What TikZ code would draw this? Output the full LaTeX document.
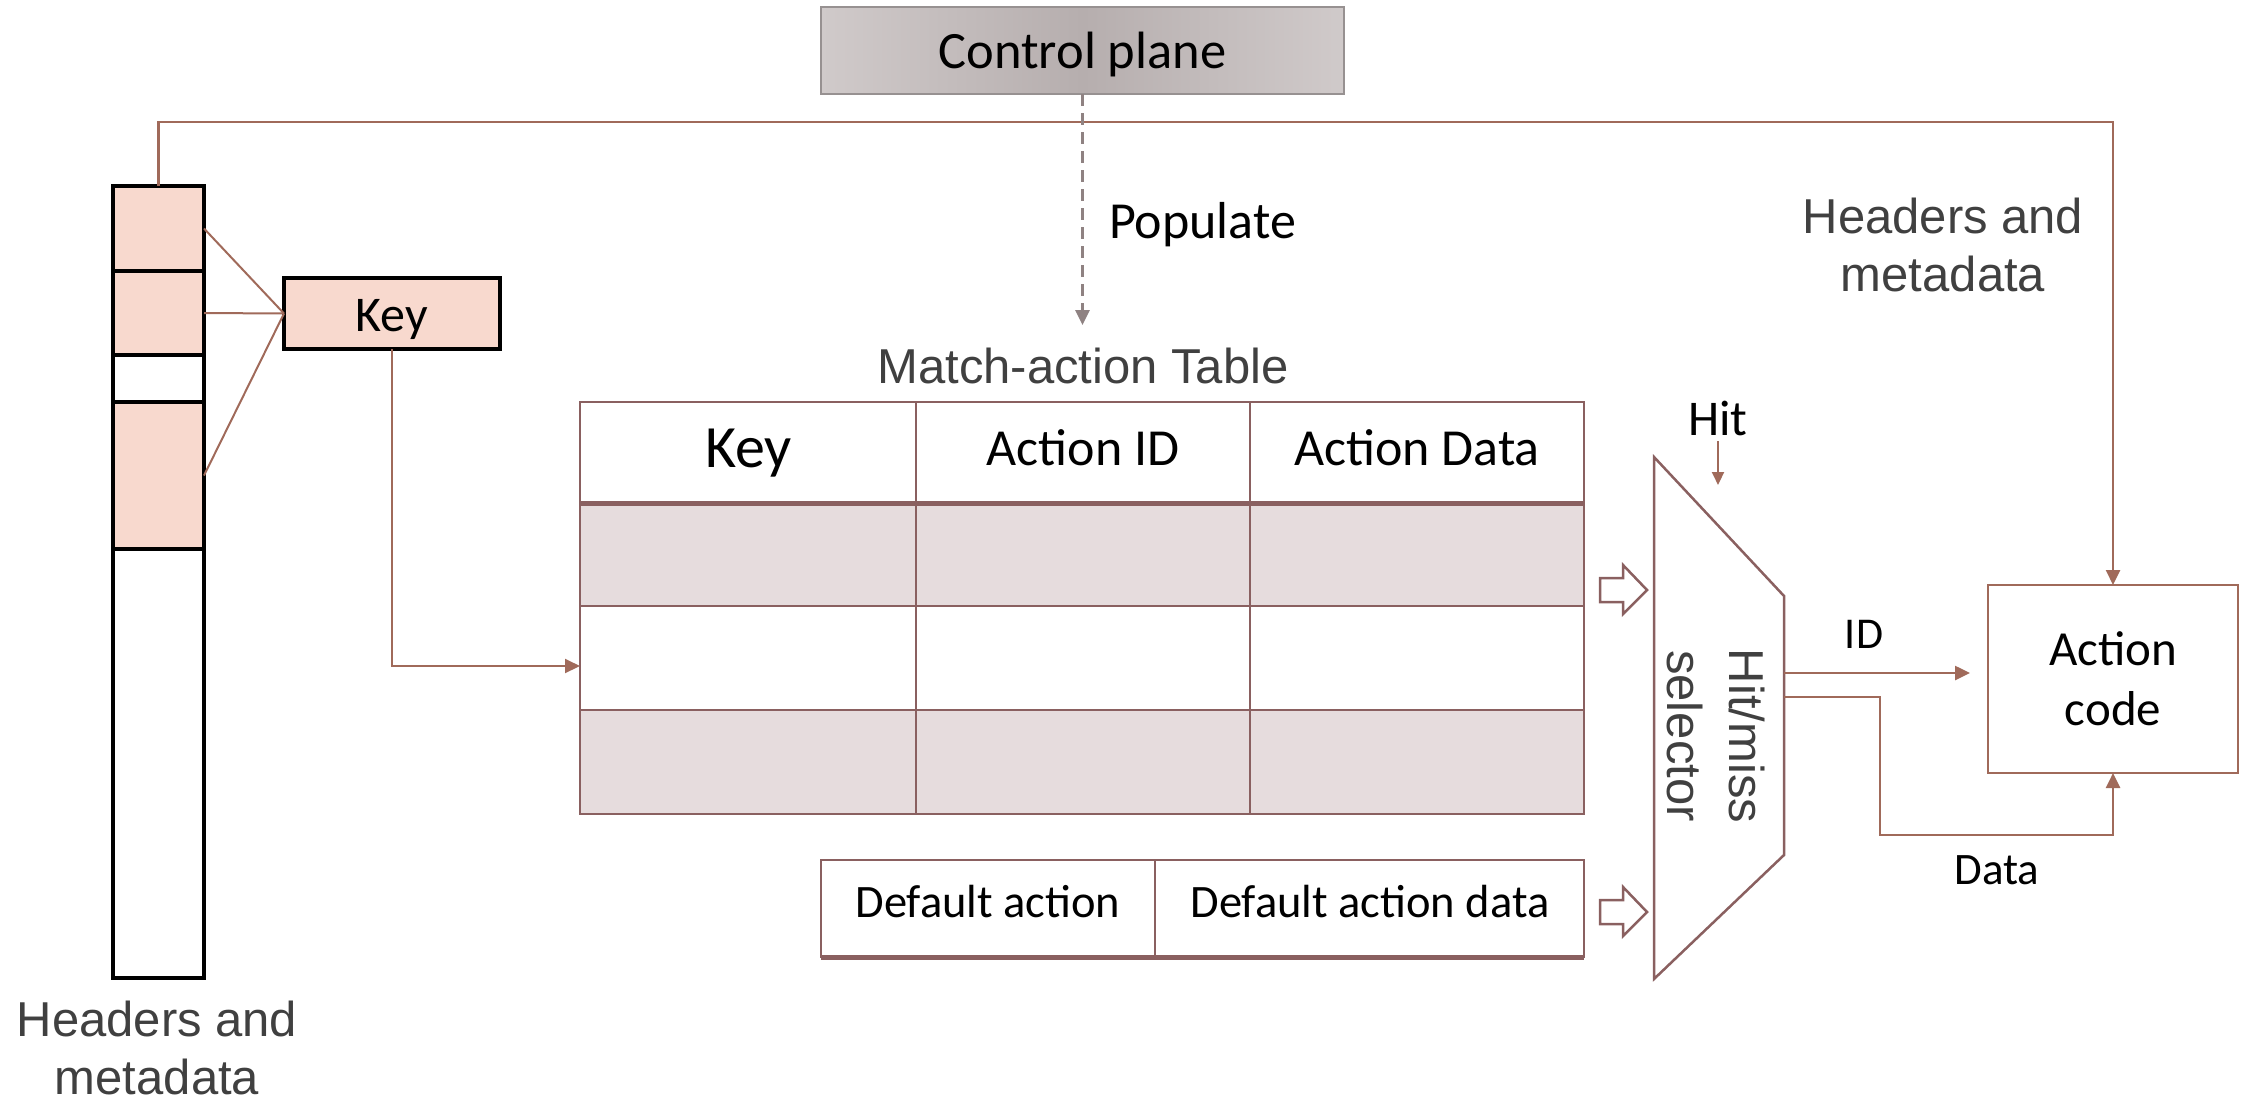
\documentclass[tikz,border=0pt]{standalone}
\usepackage{fontspec}
\setmainfont{Carlito}
\newfontfamily\arialf{Liberation Sans}
\usetikzlibrary{arrows.meta}
\definecolor{brn}{HTML}{A06A5A}
\definecolor{tbl}{HTML}{8A6060}
\definecolor{pinkf}{HTML}{F8D9CE}
\definecolor{rowf}{HTML}{E6DCDD}
\definecolor{gtxt}{HTML}{404040}
\definecolor{dashg}{HTML}{8F8282}
\definecolor{cpb}{HTML}{979191}
\definecolor{cpl}{HTML}{D0CACA}
\definecolor{cpm}{HTML}{B6AEAE}
\newcommand\fsz[2]{\fontsize{#1bp}{#2bp}\selectfont}
\begin{document}
\begin{tikzpicture}[x=1bp,y=-1bp,
  every node/.style={inner sep=0pt,outer sep=0pt},
  brline/.style={draw=brn,line width=2.5bp},
  arr/.style={-{Triangle[length=15bp,width=14bp]}},
  stackbox/.style={draw=black,line width=3.5bp,minimum width=91bp},
  cellbox/.style={draw=tbl,line width=2.5bp},
  blk/.style={font=\fsz{52}{60},text=black,anchor=base},
  gry/.style={font=\arialf\fsz{49}{58},text=gtxt,align=center},
  hollow/.style={draw=tbl,line width=2.5bp,fill=white}
]
\useasboundingbox (0,0) rectangle (2252,1103);

% control plane
\node[draw=cpb,line width=2.5bp,left color=cpl,right color=cpl,middle color=cpm,
      minimum width=523bp,minimum height=87bp] (cp) at (1082.5,50.5) {};
\node[blk,font=\fsz{52.5}{60}] (cpt) at (1082.5,68.5) {Control plane};

% header stack
\node[stackbox,fill=pinkf,minimum height=85bp] (s1) at (158.5,228.5) {};
\node[stackbox,fill=pinkf,minimum height=84bp] (s2) at (158.5,313) {};
\node[stackbox,fill=white,minimum height=47bp] (s3) at (158.5,378.5) {};
\node[stackbox,fill=pinkf,minimum height=147bp] (s4) at (158.5,475.5) {};
\node[stackbox,fill=white,minimum height=429bp] (s5) at (158.5,763.5) {};

% key box
\node[draw=black,line width=3.5bp,fill=pinkf,minimum width=216bp,minimum height=71bp] (key) at (392,313.5) {};
\node[blk,font=\fsz{50}{60}] (keyt) at (392,331) {Key};

\draw[brline,line width=2bp] (s1.east) -- (key.west);
\draw[brline,line width=2bp] (s2.east) -- (key.west);
\draw[brline,line width=2bp] (s4.east) -- (key.west);

% action code box
\node[draw=brn,line width=2.5bp,minimum width=250bp,minimum height=188bp] (ac) at (2113,679) {};
\node[font=\fsz{49}{60},align=center,anchor=base] (act) at (2113,725) {Action\\code};

% top line
\draw[brline,arr] (s1.north) -- (158.5,122) -- (2113,122) -- (ac.north);

% populate
\coordinate (popend) at (1082.5,325);
\draw[draw=dashg,line width=3bp,dash pattern=on 12bp off 7bp,-{Triangle[length=15bp,width=14bp]}] (cp.south) -- (popend);
\node[blk,anchor=base west] (pop) at (1109,238) {Populate};

% match-action table title
\node[gry,anchor=base] (mat) at (1083,383) {Match-action Table};

% table cells
\node[cellbox,minimum width=336bp,minimum height=101bp] (hk) at (748,452.5) {};
\node[cellbox,minimum width=334bp,minimum height=101bp] (hid) at (1083,452.5) {};
\node[cellbox,minimum width=334bp,minimum height=101bp] (hdat) at (1417,452.5) {};
\node[cellbox,fill=rowf,minimum width=336bp,minimum height=103bp] (r1k) at (748,554.5) {};
\node[cellbox,fill=rowf,minimum width=334bp,minimum height=103bp] (r1i) at (1083,554.5) {};
\node[cellbox,fill=rowf,minimum width=334bp,minimum height=103bp] (r1d) at (1417,554.5) {};
\node[cellbox,minimum width=336bp,minimum height=104bp] (r2k) at (748,658) {};
\node[cellbox,minimum width=334bp,minimum height=104bp] (r2i) at (1083,658) {};
\node[cellbox,minimum width=334bp,minimum height=104bp] (r2d) at (1417,658) {};
\node[cellbox,fill=rowf,minimum width=336bp,minimum height=104bp] (r3k) at (748,762) {};
\node[cellbox,fill=rowf,minimum width=334bp,minimum height=104bp] (r3i) at (1083,762) {};
\node[cellbox,fill=rowf,minimum width=334bp,minimum height=104bp] (r3d) at (1417,762) {};
\draw[draw=tbl,line width=5bp] (hk.south west) -- (hdat.south east);
\node[blk,font=\fsz{60}{70}] (hkt) at (748.5,467.4) {Key};
\node[blk] (hidt) at (1083,465.6) {Action ID};
\node[blk] (hdatt) at (1417,465.6) {Action Data};

% key -> table
\coordinate (tin) at (580,666);
\draw[brline,line width=2bp,arr] (key.south) |- (tin);

% default action
\node[cellbox,minimum width=334bp,minimum height=97bp] (da) at (988,908.5) {};
\node[cellbox,minimum width=429bp,minimum height=97bp] (dad) at (1369.5,908.5) {};
\draw[draw=tbl,line width=5bp] (da.south west) -- (dad.south east);
\node[blk,font=\fsz{46.5}{56}] (dat) at (988,917) {Default action};
\node[blk,font=\fsz{46.5}{56}] (dadt) at (1370,917) {Default action data};

% hollow arrows
\draw[hollow] (1600,578) -- (1623,578) -- (1623,565) -- (1647,590) -- (1623,614) -- (1623,602) -- (1600,602) -- cycle;
\draw[hollow] (1600,900) -- (1623,900) -- (1623,887) -- (1647,912) -- (1623,936) -- (1623,924) -- (1600,924) -- cycle;

% selector
\coordinate (sTL) at (1654,457);
\coordinate (sTR) at (1784,596);
\coordinate (sBR) at (1784,855);
\coordinate (sBL) at (1654,979);
\draw[draw=tbl,line width=2.5bp] (sTL) -- (sTR) -- (sBR) -- (sBL) -- cycle;
\node[rotate=-90,font=\arialf\fsz{49}{62},text=gtxt,align=center] (selt) at (1716,736) {Hit/miss\\selector};

% hit
\node[blk,font=\fsz{50}{60}] (hit) at (1718,435.7) {Hit};
\coordinate (hitend) at (1718,485);
\draw[brline,line width=2bp,-{Triangle[length=13bp,width=12bp]}] ([yshift=-5bp]hit.south) -- (hitend);

% ID and data
\coordinate (selID) at (1784,673);
\coordinate (idend) at (1970,673);
\draw[brline,arr] (selID) -- (idend);
\node[blk,font=\fsz{44}{56}] (idt) at (1864,648) {ID};
\coordinate (selData) at (1784,697);
\draw[brline,arr] (selData) -- (1880,697) -- (1880,835) -- (2113,835) -- (ac.south);
\node[blk,font=\fsz{45}{56}] (datat) at (1997,884) {Data};

% headers and metadata labels
\node[gry] (hmr) at (1943,245) {Headers and\\metadata};
\node[gry] (hml) at (157,1048) {Headers and\\metadata};
\end{tikzpicture}
\end{document}
